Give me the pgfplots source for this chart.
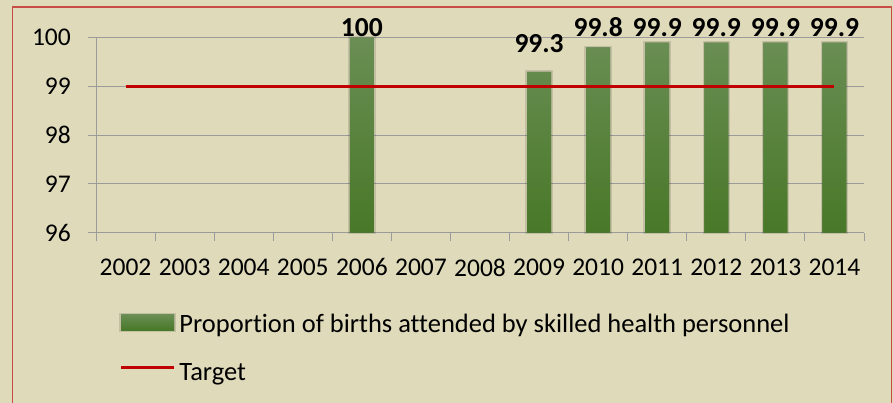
\documentclass[border=0pt]{standalone}
\usepackage{pgfplots}
\pgfplotsset{compat=1.18}
\usepackage{fontspec}
\setmainfont[Ligatures=NoCommon]{Carlito}
\definecolor{bg}{RGB}{222,218,186}
\definecolor{framec}{RGB}{200,75,70}
\definecolor{gridc}{RGB}{155,155,155}
\definecolor{bartop}{RGB}{106,142,84}
\definecolor{barbot}{RGB}{72,120,40}
\definecolor{tgt}{RGB}{192,0,0}
\newcommand{\cf}{\fontsize{25.5bp}{30bp}\selectfont}
\newcommand{\lf}{\fontsize{26.5bp}{31bp}\selectfont}
\begin{document}
\begin{tikzpicture}
\useasboundingbox (0bp,0bp) rectangle (893bp,-403bp);
\fill[bg] (0bp,0bp) rectangle (893bp,-403bp);
\draw[framec, line width=1.3bp] (12.5bp,-7bp) rectangle (891.5bp,-430bp);
\begin{axis}[
  at={(96bp,-232.5bp)}, anchor=south west,
  scale only axis, width=768bp, height=194.8bp,
  xmin=-0.5, xmax=12.5, ymin=0, ymax=4,
  y filter/.expression={y-96},
  ytick={0,1,2,3,4}, yticklabels={96,97,98,99,100},
  xtick={-0.5,0.5,...,12.5}, xticklabels={},
  extra x ticks={0,1,...,12},
  extra x tick labels={2002,2003,2004,2005,2006,2007,2008,2009,2010,2011,2012,2013,2014},
  extra x tick style={major tick length=0pt, xticklabel style={inner sep=0pt, yshift=-26bp}},
  tick align=outside, major tick length=8bp,
  tick style={gridc, line width=1bp},
  axis line style={gridc, line width=1bp},
  axis x line*=bottom, axis y line*=left,
  ymajorgrids, grid style={gridc, line width=1bp},
  clip=false,
  font=\cf,
  ticklabel style={font=\cf},
  yticklabel style={inner sep=0pt, xshift=-17bp},
  legend style={at={(axis description cs:0.0305,-0.4117)}, anchor=north west,
    draw=none, fill=none, inner sep=0pt, outer sep=0pt, font=\lf,
    nodes={inner sep=0pt, text height=18bp, text depth=6bp},
    row sep=23.5bp,
    /tikz/every odd column/.append style={column sep=3.5bp}},
  legend cell align=left,
]
\addplot[ybar, bar width=24bp, draw=none, top color=bartop, bottom color=barbot,
  preaction={draw=black, draw opacity=0.12, line width=3.5bp},
  legend image code/.code={\fill[top color=bartop, bottom color=barbot] (0bp,-3.5bp) rectangle (53bp,12.2bp);}]
  coordinates {(4,100) (7,99.3) (8,99.8) (9,99.9) (10,99.9) (11,99.9) (12,99.9)};
\addlegendentry{Proportion of births attended by skilled health personnel}
\addplot[tgt, line width=2.7bp, mark=none,
  legend image code/.code={\draw[tgt, line width=2.7bp] (0bp,6.5bp) -- (53bp,6.5bp);}]
  coordinates {(0,99) (1,99) (2,99) (3,99) (4,99) (5,99) (6,99) (7,99) (8,99) (9,99) (10,99) (11,99) (12,99)};
\addlegendentry{Target}
\addplot[draw=none, mark=none, forget plot, nodes near coords, point meta=explicit symbolic,
  nodes near coords style={anchor=base, inner sep=0pt, font=\fontsize{27.5bp}{32bp}\selectfont\bfseries}]
  table[meta=lab] {
x y lab
4 100.035 100
7 99.686 99.3
8 100.02 99.8
9 100.02 99.9
10 100.02 99.9
11 100.02 99.9
12 100.02 99.9
};
\end{axis}
\end{tikzpicture}
\end{document}
